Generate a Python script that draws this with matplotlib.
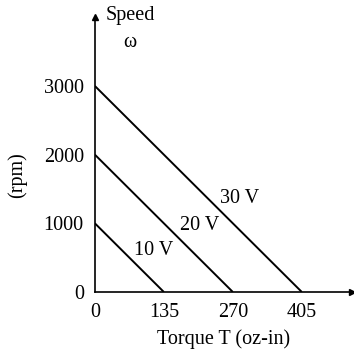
import matplotlib.pyplot as plt

# stall torque (oz-in) and no-load speed (rpm) for each voltage
voltages = ["10 V", "20 V", "30 V"]
stall_torque = [135, 270, 405]
no_load_speed = [1000, 2000, 3000]
label_pos = [(76, 611), (166, 975), (245, 1368)]

xticks = [0, 135, 270, 405]
yticks = [0, 1000, 2000, 3000]

plt.rcParams['font.family'] = ['Liberation Serif', 'DejaVu Serif']
fs = 14.5

fig = plt.figure(figsize=(3.54, 3.52), dpi=100)
ax = fig.add_axes([0.268, 0.1705, 0.726, 0.781])
ax.set_xlim(0, 503)
ax.set_ylim(0, 4003)

for v, t, w, (lx, ly) in zip(voltages, stall_torque, no_load_speed, label_pos):
    ax.plot([0, t], [w, 0], color='black', lw=1.4, solid_capstyle='butt')
    ax.text(lx, ly, v, fontsize=fs, va='center', ha='left')

for s in ['top', 'right']:
    ax.spines[s].set_visible(False)
for s in ['left', 'bottom']:
    ax.spines[s].set_linewidth(1.2)

# arrow heads on the axes
ax.plot(1, 0, '>', color='black', ms=5, transform=ax.transAxes, clip_on=False)
ax.plot(0, 1, '^', color='black', ms=5, transform=ax.transAxes, clip_on=False)

ax.set_xticks(xticks)
ax.set_yticks(yticks)
ax.set_xticklabels([str(x) for x in xticks], fontsize=fs)
ax.set_yticklabels([str(y) for y in yticks], fontsize=fs)
ax.tick_params(length=0, pad=8)

ax.set_xlabel("Torque T (oz-in)", fontsize=fs, labelpad=5)
fig.text(0.048, 0.503, "(rpm)", rotation=90, fontsize=fs, ha='center', va='center')
fig.text(0.367, 0.955, "Speed", fontsize=fs, ha='center', va='center')
fig.text(0.367, 0.878, "ω", fontsize=fs, ha='center', va='center')

fig.savefig("out.png", dpi=100)
